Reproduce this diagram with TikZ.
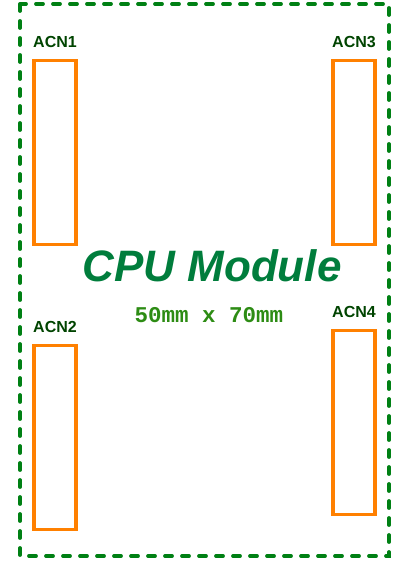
\documentclass[tikz,border=0pt]{standalone}
\usepackage{fontspec}
\setmainfont{Liberation Sans}
\newfontfamily\dimfont{Liberation Mono}
\usetikzlibrary{positioning}
\definecolor{board}{RGB}{0,128,20}
\definecolor{conn}{RGB}{255,128,0}
\definecolor{tagc}{RGB}{0,68,0}
\definecolor{titlec}{RGB}{0,125,60}
\definecolor{dimc}{RGB}{45,140,20}
\tikzset{
  edge/.style={draw=board,line width=3.8pt,dash pattern=on 7pt off 10pt,line cap=round},
  acn/.style={draw=conn,line width=3.6pt,minimum width=42pt,minimum height=184pt,inner sep=0pt},
  tag/.style={font=\bfseries\fontsize{16}{18}\selectfont,text=tagc,inner sep=0pt},
  title/.style={font=\bfseries\itshape\fontsize{44}{48}\selectfont,text=titlec,inner sep=0pt},
  size/.style={font=\dimfont\bfseries\fontsize{22.5}{24}\selectfont,text=dimc,inner sep=0pt}
}

\begin{document}
\begin{tikzpicture}[x=1pt,y=-1pt,node distance=10.5pt]
  \useasboundingbox (0,0) rectangle (405,564);
  % board outline
  \draw[edge] (20,4) rectangle (389,556);
  % connectors
  \node[acn] (acn1) at (55,152.5) {};
  \node[acn] (acn3) at (354,152.5) {};
  \node[acn] (acn2) at (55,437.5) {};
  \node[acn] (acn4) at (354,422.5) {};
  \node[tag,above=of acn1] (t1) {ACN1};
  \node[tag,above=of acn3] (t3) {ACN3};
  \node[tag,above=of acn2] (t2) {ACN2};
  \node[tag,above=of acn4] (t4) {ACN4};
  % module name
  \node[title,anchor=base] (cpu) at (212,281) {CPU Module};
  \node[size,anchor=base] (dims) at (209,322) {50mm x 70mm};
\end{tikzpicture}
\end{document}
